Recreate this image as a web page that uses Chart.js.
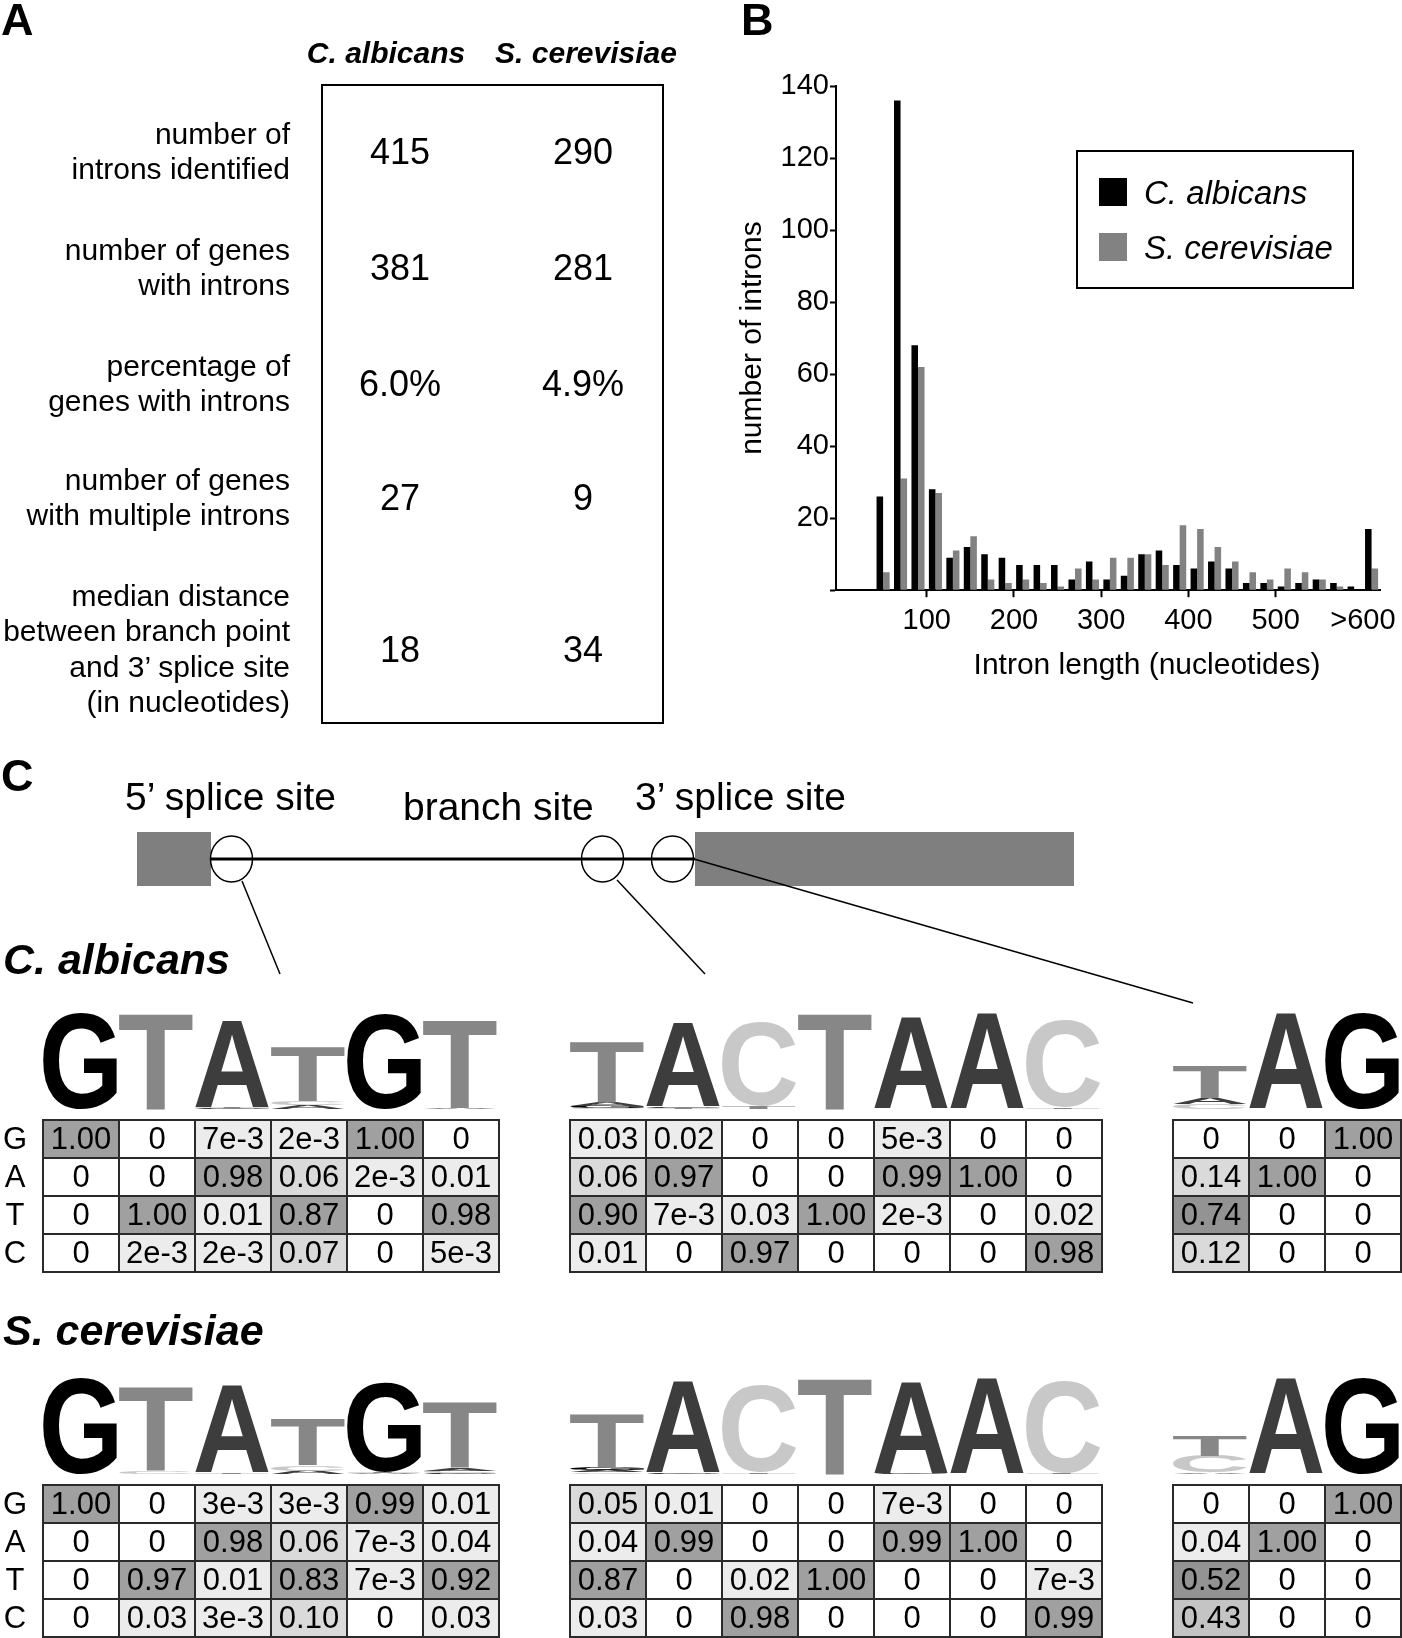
<!DOCTYPE html>
<html>
<head>
<meta charset="utf-8">
<title>Introns in C. albicans and S. cerevisiae</title>
<script src="https://cdn.jsdelivr.net/npm/chart.js"></script>
<style>
    body { margin: 0; width: 1402px; height: 1638px; position: relative; overflow: hidden; background: #fff;
           font-family: "Liberation Sans", Arial, sans-serif; color: #000; }
    .txt { position: absolute; white-space: nowrap; line-height: 1; }
    #overlay { position: absolute; left: 0; top: 0; }
    #chartBox { position: absolute; left: 690px; top: 56px; width: 712px; height: 600px; }
    #statBox { position: absolute; left: 321px; top: 84px; width: 343px; height: 640px; border: 2px solid #000; box-sizing: border-box; }
    #legend { position: absolute; left: 1076px; top: 150px; width: 278px; height: 139px; border: 2px solid #000; box-sizing: border-box; }
    .swatch { position: absolute; width: 28px; height: 28px; }
    table.freq { position: absolute; border-collapse: collapse; table-layout: fixed; }
    table.freq td { width: 76px; height: 38px; padding: 0; border: 2px solid #2a2a2a; text-align: center;
                    font-size: 31px; line-height: 34px; box-sizing: border-box; }
</style>
</head>
<body>
    <canvas id="overlay" width="1402" height="1638"></canvas>
    <div id="statBox"></div>
    <div id="chartBox"><canvas id="histChart"></canvas></div>
    <div id="legend"></div>

    <script>
        // ---- panel A: summary table ----
        const statLabels = [
            ['number of', 'introns identified'],
            ['number of genes', 'with introns'],
            ['percentage of', 'genes with introns'],
            ['number of genes', 'with multiple introns'],
            ['median distance', 'between branch point', 'and 3\u2019 splice site', '(in nucleotides)']
        ];
        const statAlbicans = ['415', '381', '6.0%', '27', '18'];
        const statCerevisiae = ['290', '281', '4.9%', '9', '34'];

        // ---- panel B: intron length histogram (20 nt bins, 600 = ">600") ----
        const binStarts = [40, 60, 80, 100, 120, 140, 160, 180, 200, 220, 240, 260, 280, 300, 320,
                           340, 360, 380, 400, 420, 440, 460, 480, 500, 520, 540, 560, 580, 600];
        const albicansCounts = [26, 136, 68, 28, 9, 12, 10, 9, 7, 7, 7, 3, 8, 3, 4,
                                10, 11, 7, 6, 8, 6, 2, 2, 1, 2, 3, 2, 1, 17];
        const cerevisiaeCounts = [5, 31, 62, 27, 11, 15, 3, 2, 3, 2, 1, 6, 3, 9, 9,
                                  10, 7, 18, 17, 12, 8, 5, 3, 6, 5, 3, 1, 0, 6];
        const xTickValues = [100, 200, 300, 400, 500, 600];
        const xTickLabels = ['100', '200', '300', '400', '500', '>600'];
        const species = ['C. albicans', 'S. cerevisiae'];
        const speciesColors = ['#000000', '#828282'];

        // ---- panel C: base frequencies, rows G A T C ----
        const bases = ['G', 'A', 'T', 'C'];
        const albicans5ss = [
            ['1.00', '0', '7e-3', '2e-3', '1.00', '0'],
            ['0', '0', '0.98', '0.06', '2e-3', '0.01'],
            ['0', '1.00', '0.01', '0.87', '0', '0.98'],
            ['0', '2e-3', '2e-3', '0.07', '0', '5e-3']
        ];
        const albicansBranch = [
            ['0.03', '0.02', '0', '0', '5e-3', '0', '0'],
            ['0.06', '0.97', '0', '0', '0.99', '1.00', '0'],
            ['0.90', '7e-3', '0.03', '1.00', '2e-3', '0', '0.02'],
            ['0.01', '0', '0.97', '0', '0', '0', '0.98']
        ];
        const albicans3ss = [
            ['0', '0', '1.00'],
            ['0.14', '1.00', '0'],
            ['0.74', '0', '0'],
            ['0.12', '0', '0']
        ];
        const cerevisiae5ss = [
            ['1.00', '0', '3e-3', '3e-3', '0.99', '0.01'],
            ['0', '0', '0.98', '0.06', '7e-3', '0.04'],
            ['0', '0.97', '0.01', '0.83', '7e-3', '0.92'],
            ['0', '0.03', '3e-3', '0.10', '0', '0.03']
        ];
        const cerevisiaeBranch = [
            ['0.05', '0.01', '0', '0', '7e-3', '0', '0'],
            ['0.04', '0.99', '0', '0', '0.99', '1.00', '0'],
            ['0.87', '0', '0.02', '1.00', '0', '0', '7e-3'],
            ['0.03', '0', '0.98', '0', '0', '0', '0.99']
        ];
        const cerevisiae3ss = [
            ['0', '0', '1.00'],
            ['0.04', '1.00', '0'],
            ['0.52', '0', '0'],
            ['0.43', '0', '0']
        ];
        const baseColors = { G: '#000000', A: '#3d3d3d', T: '#878787', C: '#c8c8c8' };

        // text placed by its baseline; align = left | center | right
        function label(text, x, baseline, size, align, style) {
            const d = document.createElement('div');
            d.className = 'txt';
            d.textContent = text;
            d.style.fontSize = size + 'px';
            d.style.top = (baseline - 0.8465 * size) + 'px';
            d.style.left = x + 'px';
            if (align === 'center') d.style.transform = 'translateX(-50%)';
            if (align === 'right') d.style.transform = 'translateX(-100%)';
            if (style) Object.assign(d.style, style);
            document.body.appendChild(d);
            return d;
        }
        const boldItalic = { fontWeight: 'bold', fontStyle: 'italic' };

        // panel letters
        label('A', 1, 35, 45, 'left', { fontWeight: 'bold' });
        label('B', 741, 35, 45, 'left', { fontWeight: 'bold' });
        label('C', 1, 791, 45, 'left', { fontWeight: 'bold' });

        // panel A
        label(species[0], 386, 63, 30, 'center', boldItalic);
        label(species[1], 586, 63, 30, 'center', boldItalic);
        const rowCenters = [151.5, 267.5, 383.5, 497.5, 649];
        statLabels.forEach((lines, r) => {
            const first = rowCenters[r] - (lines.length - 1) / 2 * 35.5 + 10.5;
            lines.forEach((ln, i) => label(ln, 290, first + i * 35.5, 30, 'right'));
            label(statAlbicans[r], 400, rowCenters[r] + 13, 36, 'center');
            label(statCerevisiae[r], 583, rowCenters[r] + 13, 36, 'center');
        });

        // panel B
        Chart.defaults.font.family = '"Liberation Sans", Arial, sans-serif';
        Chart.defaults.color = '#000';

        const datasets = species.map((name, k) => ({
            label: name,
            data: binStarts.map((s, i) => ({ x: s + 10, y: (k === 0 ? albicansCounts : cerevisiaeCounts)[i] })),
            backgroundColor: speciesColors[k],
            borderWidth: 0,
            categoryPercentage: 0.75,
            barPercentage: 1.0
        }));

        new Chart(document.getElementById('histChart'), {
            type: 'bar',
            data: { datasets: datasets },
            options: {
                responsive: true,
                maintainAspectRatio: false,
                animation: false,
                layout: { padding: { top: 30, right: 15, bottom: 12, left: 0 } },
                plugins: { legend: { display: false }, tooltip: { enabled: false } },
                scales: {
                    x: {
                        type: 'linear', min: -4, max: 620, offset: false,
                        grid: { drawOnChartArea: false, offset: false, tickLength: 7, tickWidth: 2,
                                tickColor: ctx => (ctx.tick && ctx.tick.value > 500) ? 'rgba(0,0,0,0)' : '#000' },
                        border: { color: '#000', width: 2 },
                        afterBuildTicks: axis => { axis.ticks = xTickValues.map(v => ({ value: v })); },
                        ticks: { font: { size: 29 }, padding: 6, maxRotation: 0, autoSkip: false,
                                 callback: (v, i) => xTickLabels[i] }
                    },
                    y: {
                        min: 0, max: 140,
                        afterFit: scale => { scale.width = 146; },
                        grid: { drawOnChartArea: false, tickLength: 6, tickWidth: 2, tickColor: '#000' },
                        border: { color: '#000', width: 2 },
                        ticks: { stepSize: 20, font: { size: 29 }, padding: 1,
                                 callback: v => v === 0 ? '' : v },
                        title: { display: true, text: 'number of introns', font: { size: 30 },
                                 padding: { top: 45, bottom: 0 } }
                    }
                }
            }
        });
        label('Intron length (nucleotides)', 1147, 674, 30, 'center');

        const legend = document.getElementById('legend');
        species.forEach((name, k) => {
            const sw = document.createElement('div');
            sw.className = 'swatch';
            sw.style.left = '21px';
            sw.style.top = (26 + k * 55) + 'px';
            sw.style.background = speciesColors[k];
            legend.appendChild(sw);
            label(name, 1144, 204 + k * 55, 33, 'left', { fontStyle: 'italic' });
        });

        // panel C: splice site diagram
        const ctx = document.getElementById('overlay').getContext('2d');
        label('5\u2019 splice site', 125, 810, 39, 'left');
        label('branch site', 403, 820, 39, 'left');
        label('3\u2019 splice site', 635, 810, 39, 'left');

        ctx.fillStyle = '#7f7f7f';
        ctx.fillRect(137, 832, 74, 54);
        ctx.fillRect(695, 832, 379, 54);
        ctx.strokeStyle = '#000';
        ctx.lineWidth = 3;
        ctx.beginPath(); ctx.moveTo(211, 859); ctx.lineTo(695, 859); ctx.stroke();
        ctx.lineWidth = 1.5;
        [231.5, 602.5, 672.5].forEach(cx => {
            ctx.beginPath(); ctx.ellipse(cx, 859, 21, 23, 0, 0, Math.PI * 2); ctx.stroke();
        });
        [[242, 881, 280, 974], [617, 880, 705, 974], [694, 859, 1193, 1003]].forEach(l => {
            ctx.beginPath(); ctx.moveTo(l[0], l[1]); ctx.lineTo(l[2], l[3]); ctx.stroke();
        });

        // sequence logos + frequency tables
        function shade(v) {
            if (v === 0) return '#ffffff';
            if (v < 0.05) return '#ececec';
            if (v < 0.2) return '#dadada';
            if (v < 0.5) return '#c4c4c4';
            if (v < 0.8) return '#939393';
            return '#a0a0a0';
        }

        function drawGlyph(ch, x, y, w, h) {
            ctx.save();
            ctx.font = 'bold 200px "Liberation Sans", Arial, sans-serif';
            const m = ctx.measureText(ch);
            const gw = m.actualBoundingBoxLeft + m.actualBoundingBoxRight;
            const gh = m.actualBoundingBoxAscent + m.actualBoundingBoxDescent;
            ctx.translate(x, y);
            ctx.scale(w / gw, h / gh);
            ctx.fillStyle = baseColors[ch];
            ctx.fillText(ch, m.actualBoundingBoxLeft, m.actualBoundingBoxAscent);
            ctx.restore();
        }

        function drawLogo(matrix, left, baseline, colW, maxH) {
            for (let c = 0; c < matrix[0].length; c++) {
                const p = bases.map((b, r) => Number(matrix[r][c]));
                let H = 0;
                p.forEach(v => { if (v > 0) H -= v * Math.log2(v); });
                const ic = Math.max(0, 2 - H);
                const stack = bases.map((b, r) => ({ b: b, h: p[r] * ic / 2 * maxH }))
                                   .filter(s => s.h > 0.4)
                                   .sort((a, b) => a.h - b.h);
                let y = baseline;
                stack.forEach(s => { drawGlyph(s.b, left + c * colW + 1, y - s.h, colW - 2, s.h); y -= s.h; });
            }
        }

        function buildTable(matrix, left, top) {
            const t = document.createElement('table');
            t.className = 'freq';
            t.style.left = left + 'px';
            t.style.top = top + 'px';
            t.style.width = (matrix[0].length * 76) + 'px';
            matrix.forEach(row => {
                const tr = t.insertRow();
                row.forEach(v => {
                    const td = tr.insertCell();
                    td.textContent = v;
                    td.style.background = shade(Number(v));
                });
            });
            document.body.appendChild(t);
            drawLogo(matrix, left, top - 10, 76, 96);
        }

        const tableLefts = [42, 569, 1172];
        const blocks = [
            { name: species[0], nameBase: 974, top: 1119, mats: [albicans5ss, albicansBranch, albicans3ss] },
            { name: species[1], nameBase: 1345, top: 1484, mats: [cerevisiae5ss, cerevisiaeBranch, cerevisiae3ss] }
        ];
        blocks.forEach(bk => {
            label(bk.name, 3, bk.nameBase, 43, 'left', boldItalic);
            bk.mats.forEach((m, i) => buildTable(m, tableLefts[i], bk.top));
            bases.forEach((b, r) => label(b, 15, bk.top + 19 + r * 38 + 11, 31, 'center'));
        });
    </script>
</body>
</html>
